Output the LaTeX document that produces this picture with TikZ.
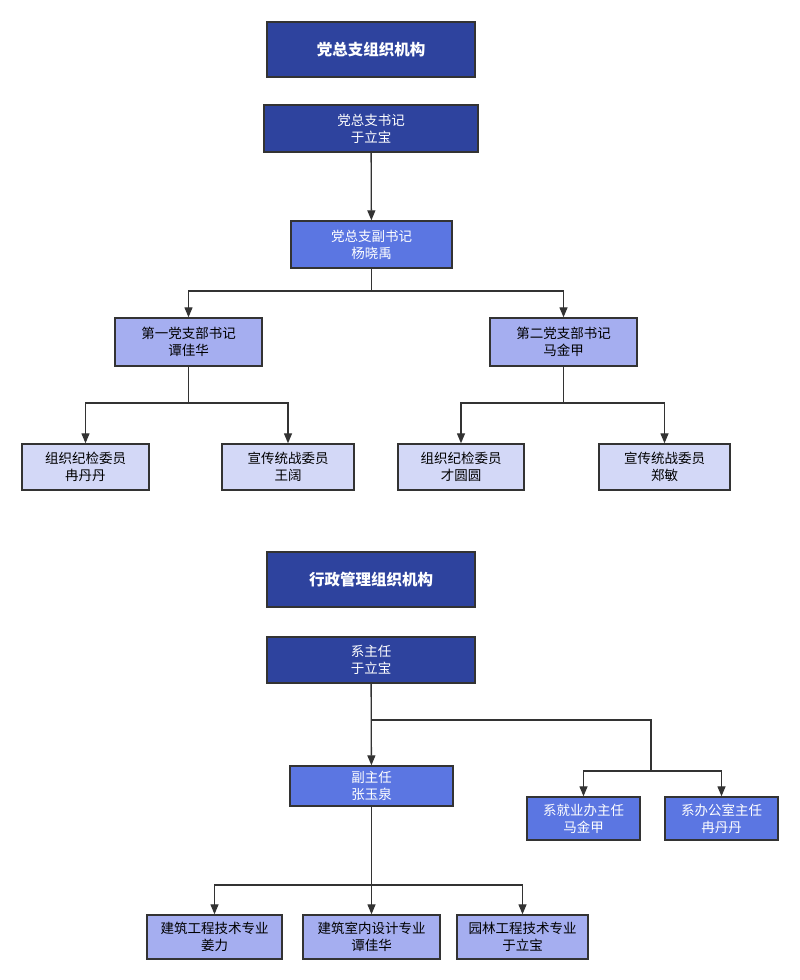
\documentclass[tikz,border=0pt]{standalone}
\usepackage{xcolor}
\usepackage{fontspec}
\usepackage{tikz}
\usetikzlibrary{arrows.meta}
\setmainfont{Noto Sans CJK SC}

\definecolor{darkblue}{HTML}{2E439E}
\definecolor{midblue}{HTML}{5B76E2}
\definecolor{lightblue}{HTML}{A5AEF0}
\definecolor{paleblue}{HTML}{D3D8F7}
\definecolor{edge}{HTML}{333333}

\begin{document}
\begin{tikzpicture}[x=1pt,y=-1pt,
    box/.style={draw=edge,line width=1.4pt,align=center,inner sep=0pt,font=\fontsize{13.5}{17}\selectfont},
    title/.style={box,fill=darkblue,text=white,minimum width=208,minimum height=55,font=\fontsize{15.5}{18}\selectfont\bfseries},
    topbox/.style={box,fill=darkblue,text=white},
    midbox/.style={box,fill=midblue,text=white},
    lowbox/.style={box,fill=lightblue,text=black},
    leafbox/.style={box,fill=paleblue,text=black},
    arr/.style={draw=edge,line width=1.3pt,-{Triangle[width=8,length=10]}},
    ln/.style={draw=edge,line width=1.3pt}]
             \useasboundingbox[fill=white] (0,0) rectangle (800,980);

             % party branch
             \node[title] (ptitle) at (371,49.5) {党总支组织机构};
             \node[topbox,minimum width=214,minimum height=47] (psec) at (371,128.5) {党总支书记\\于立宝};
             \node[midbox,minimum width=161,minimum height=47] (pdep) at (371.5,244.5) {党总支副书记\\杨晓禹};
             \node[lowbox,minimum width=147,minimum height=48] (pone) at (188.5,342) {第一党支部书记\\谭佳华};
             \node[lowbox,minimum width=147,minimum height=48] (ptwo) at (563.5,342) {第二党支部书记\\马金甲};
             \node[leafbox,minimum width=127,minimum height=46] (pa) at (85.5,467) {组织纪检委员\\冉丹丹};
             \node[leafbox,minimum width=132,minimum height=46] (pb) at (288,467) {宣传统战委员\\王阔};
             \node[leafbox,minimum width=126,minimum height=46] (pc) at (461,467) {组织纪检委员\\才圆圆};
             \node[leafbox,minimum width=131,minimum height=46] (pd) at (664.5,467) {宣传统战委员\\郑敏};

             \coordinate (pj) at (371.5,291);
             \coordinate (pj1) at (188.5,403);
             \coordinate (pj2) at (563.5,403);

             \draw[arr] (psec) -- (pdep);
             \draw[ln] (pdep) -- (pj);
             \draw[arr] (pj) -| (pone);
             \draw[arr] (pj) -| (ptwo);
             \draw[ln] (pone) -- (pj1);
             \draw[arr] (pj1) -| (pa);
             \draw[arr] (pj1) -| (pb);
             \draw[ln] (ptwo) -- (pj2);
             \draw[arr] (pj2) -| (pc);
             \draw[arr] (pj2) -| (pd);

             % administration
             \node[title] (atitle) at (371,579.5) {行政管理组织机构};
             \node[topbox,minimum width=208,minimum height=46] (ahead) at (371,660) {系主任\\于立宝};
             \node[midbox,minimum width=163,minimum height=40] (adep) at (371.5,786) {副主任\\张玉泉};
             \node[midbox,minimum width=113,minimum height=43] (ajob) at (583.5,818.5) {系就业办主任\\马金甲};
             \node[midbox,minimum width=113,minimum height=43] (aoff) at (721.5,818.5) {系办公室主任\\冉丹丹};
             \node[lowbox,minimum width=135,minimum height=44] (ma) at (214.5,937) {建筑工程技术专业\\姜力};
             \node[lowbox,minimum width=137,minimum height=44] (mb) at (371.5,937) {建筑室内设计专业\\谭佳华};
             \node[lowbox,minimum width=131,minimum height=44] (mc) at (522.5,937) {园林工程技术专业\\于立宝};

             \coordinate (aj) at (371.5,720);
             \coordinate (ak) at (651,720);
             \coordinate (al) at (651,771);
             \coordinate (am) at (371.5,885);

             \draw[arr] (ahead) -- (adep);
             \draw[ln] (aj) -- (ak) -- (al);
             \draw[arr] (al) -| (ajob);
             \draw[arr] (al) -| (aoff);
             \draw[arr] (adep) -- (mb);
             \draw[arr] (am) -| (ma);
             \draw[arr] (am) -| (mc);
             \end{tikzpicture}
\end{document}
